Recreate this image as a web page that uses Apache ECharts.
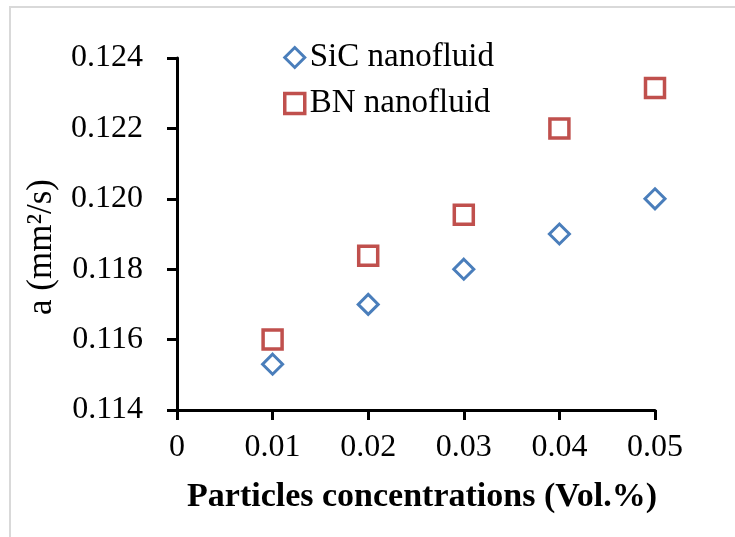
<!DOCTYPE html>
<html>
<head>
<meta charset="utf-8">
<script src="https://cdn.jsdelivr.net/npm/echarts@6/dist/echarts.min.js"></script>
<style>
html,body{margin:0;padding:0;background:#fff;}
#chart{width:735px;height:537px;}
</style>
</head>
<body>
<div id="chart"></div>
<script>
var concentrations = [0.01, 0.02, 0.03, 0.04, 0.05];
var sicValues = [0.1153, 0.1170, 0.1180, 0.1190, 0.1200];
var bnValues = [0.1160, 0.11838, 0.11955, 0.1220, 0.12315];
var seriesNames = ['SiC nanofluid', 'BN nanofluid'];
var xTitle = 'Particles concentrations (Vol.%)';
var yTitle = 'a (mm\u00B2/s)';

function pairs(xs, ys) { return xs.map(function (x, i) { return [x, ys[i]]; }); }

var FONT = '"Liberation Serif", "Times New Roman", serif';
var chart = echarts.init(document.getElementById('chart'));
chart.setOption({
  animation: false,
  backgroundColor: '#fff',
  graphic: [{
    type: 'rect', silent: true,
    shape: { x: 10, y: 7, width: 740, height: 540 },
    style: { fill: 'none', stroke: '#d9d9d9', lineWidth: 2 }
  }],
  grid: { left: 177, top: 58, width: 478, height: 352, containLabel: false },
  legend: {
    orient: 'vertical', left: 278, top: 36, itemGap: 13,
    itemWidth: 20, itemHeight: 20,
    textStyle: { fontFamily: FONT, fontSize: 33, color: '#000' },
    data: [
      { name: seriesNames[0], icon: 'diamond', itemStyle: { color: '#fff', borderColor: '#4a7ebb', borderWidth: 3 } },
      { name: seriesNames[1], icon: 'rect', itemStyle: { color: '#fff', borderColor: '#c0504d', borderWidth: 3.5 } }
    ]
  },
  xAxis: {
    type: 'value', min: 0, max: 0.05, interval: 0.01,
    name: xTitle, nameLocation: 'middle', nameGap: 70,
    nameTextStyle: { fontFamily: FONT, fontSize: 34, fontWeight: 'bold', color: '#000', padding: [0, 0, 0, 12] },
    axisLine: { show: true, lineStyle: { color: '#000', width: 3 } },
    axisTick: { show: true, length: 10, lineStyle: { color: '#000', width: 3 } },
    axisLabel: { fontFamily: FONT, fontSize: 32, color: '#000', margin: 22,
      formatter: function (v) { return v === 0 ? '0' : v.toFixed(2); } },
    splitLine: { show: false }
  },
  yAxis: {
    type: 'value', min: 0.114, max: 0.124, interval: 0.002,
    name: yTitle, nameLocation: 'middle', nameGap: 118, nameRotate: 90,
    nameTextStyle: { fontFamily: FONT, fontSize: 35, color: '#000', padding: [0, 26, 0, 0] },
    axisLine: { show: true, lineStyle: { color: '#000', width: 3 } },
    axisTick: { show: true, length: 10, lineStyle: { color: '#000', width: 3 } },
    axisLabel: { fontFamily: FONT, fontSize: 32, color: '#000', margin: 34,
      formatter: function (v) { return v.toFixed(3); } },
    splitLine: { show: false }
  },
  series: [
    { name: seriesNames[0], type: 'scatter', symbol: 'diamond', symbolSize: 20,
      itemStyle: { color: '#fff', borderColor: '#4a7ebb', borderWidth: 3, opacity: 1 },
      data: pairs(concentrations, sicValues) },
    { name: seriesNames[1], type: 'scatter', symbol: 'rect', symbolSize: 19,
      itemStyle: { color: '#fff', borderColor: '#c0504d', borderWidth: 3.5, opacity: 1 },
      data: pairs(concentrations, bnValues) }
  ]
});
</script>
</body>
</html>
